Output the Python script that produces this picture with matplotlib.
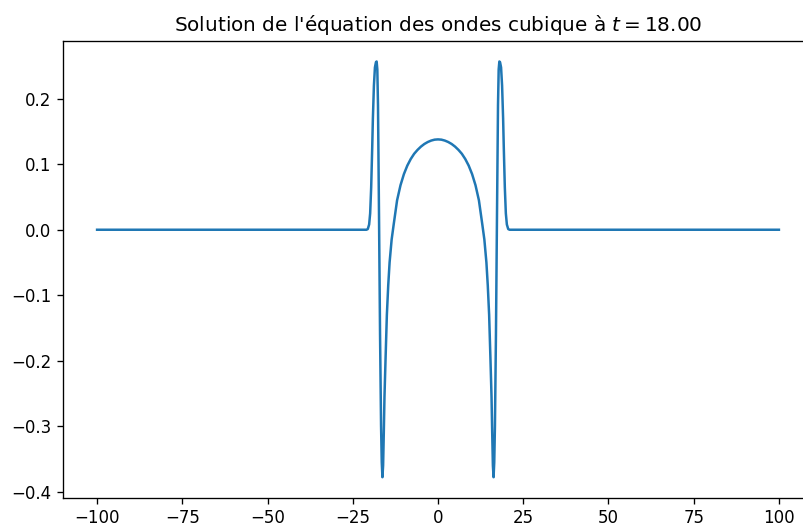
import matplotlib
matplotlib.use("Agg")
import matplotlib.pyplot as plt

# Hand-read points of the solution u(x) at t = 18.00
x_vals = [-100.0, -21.0, -20.6, -20.2, -19.9, -19.6, -19.3, -19.1, -18.8, -18.5, -18.2, -18.0,
          -17.8, -17.6, -17.3, -17.0, -16.7, -16.5, -16.3, -16.1, -15.9, -15.7, -15.4, -15.0,
          -14.6, -14.2, -13.6, -13.0, -12.0, -11.0, -10.0, -9.0, -8.0, -7.0, -6.0, -5.0,
          -4.0, -3.0, -2.0, -1.0, 0.0,
          1.0, 2.0, 3.0, 4.0, 5.0, 6.0, 7.0, 8.0, 9.0, 10.0, 11.0, 12.0, 13.0, 13.6, 14.2,
          14.6, 15.0, 15.4, 15.7, 15.9, 16.1, 16.3, 16.5, 16.7, 17.0, 17.3, 17.6, 17.8, 18.0,
          18.2, 18.5, 18.8, 19.1, 19.3, 19.6, 19.9, 20.2, 20.6, 21.0, 100.0]
u_vals = [0.0, 0.0, 0.001, 0.008, 0.025, 0.065, 0.125, 0.17, 0.22, 0.248, 0.256, 0.257,
          0.245, 0.19, 0.02, -0.16, -0.30, -0.355, -0.378, -0.36, -0.31, -0.255, -0.20, -0.13,
          -0.085, -0.05, -0.015, 0.008, 0.045, 0.068, 0.085, 0.098, 0.108, 0.116, 0.122, 0.127,
          0.131, 0.134, 0.1362, 0.1376, 0.138,
          0.1376, 0.1362, 0.134, 0.131, 0.127, 0.122, 0.116, 0.108, 0.098, 0.085, 0.068, 0.045, 0.008, -0.015, -0.05,
          -0.085, -0.13, -0.20, -0.255, -0.31, -0.36, -0.378, -0.355, -0.30, -0.16, 0.02, 0.19, 0.245, 0.257,
          0.256, 0.248, 0.22, 0.17, 0.125, 0.065, 0.025, 0.008, 0.001, 0.0, 0.0]

title_text = "Solution de l'équation des ondes cubique à $t = 18.00$"

DPI = 120
fig = plt.figure(figsize=(803 / DPI, 524 / DPI), dpi=DPI)
ax = fig.add_axes([63 / 803, 26 / 524, 750 / 803, 457.3 / 524])
ax.plot(x_vals, u_vals, color="#1f77b4", linewidth=1.5)
ax.set_title(title_text)
ax.set_xticks([-100, -75, -50, -25, 0, 25, 50, 75, 100])
ax.tick_params(axis="x", pad=3.0)
fig.savefig("out.png", dpi=DPI)
